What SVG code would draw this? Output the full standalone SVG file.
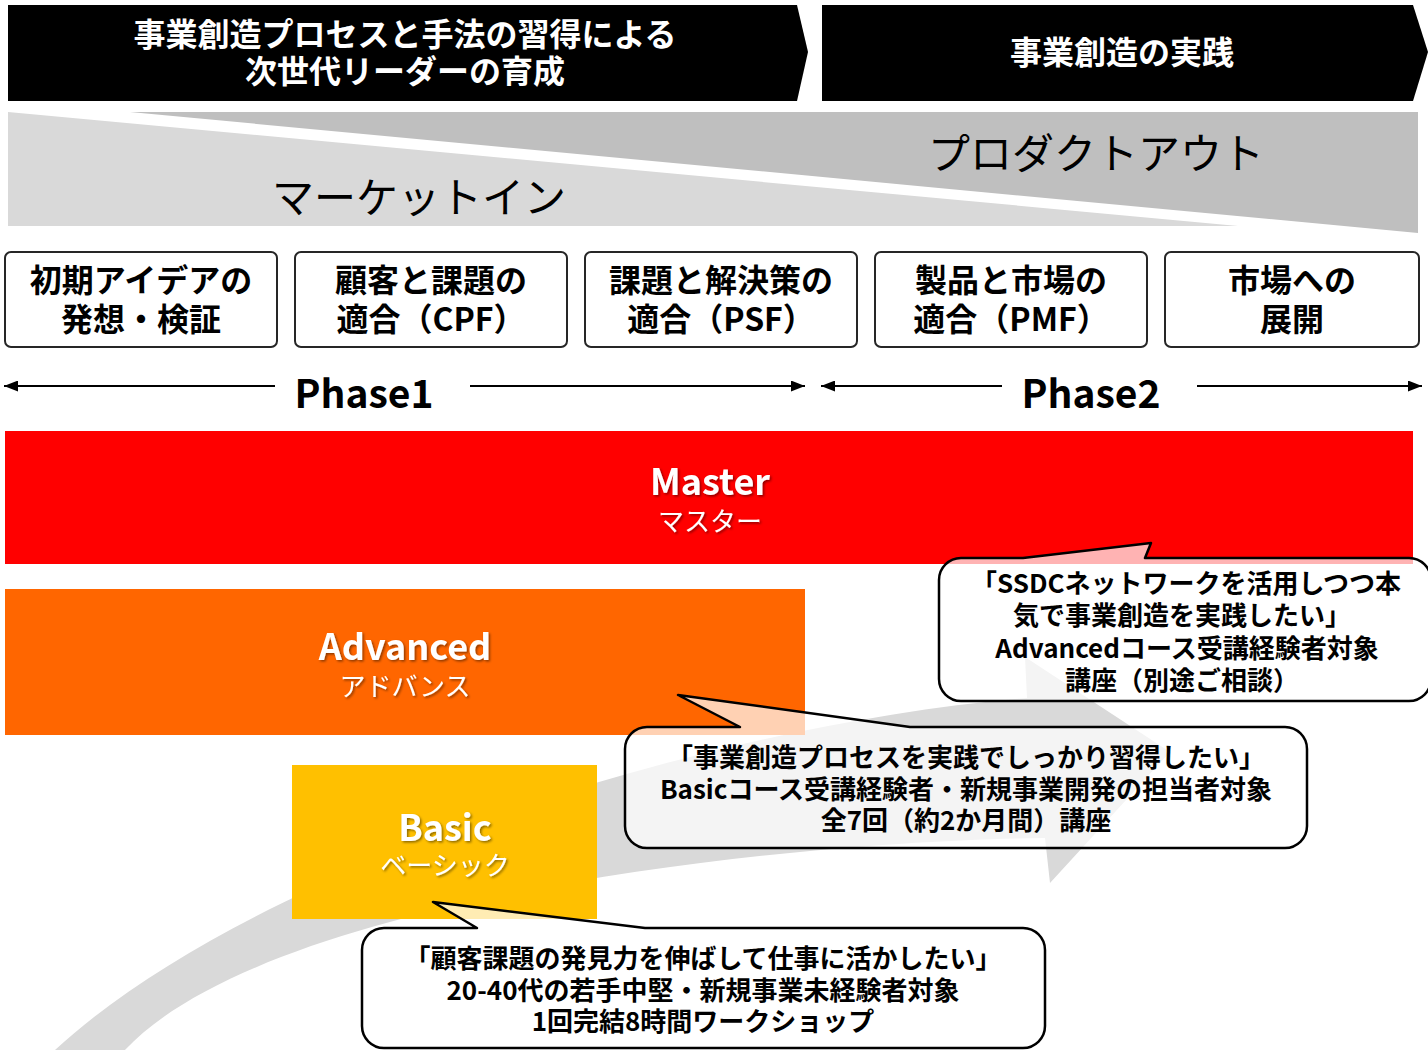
<svg xmlns="http://www.w3.org/2000/svg" width="1428" height="1050" viewBox="0 0 1428 1050">
<style>
  text { font-family: 'Noto Sans CJK JP', 'Noto Sans', sans-serif; text-anchor: middle; }
  .banner { fill: #000; }
  .bannerText { fill: #fff; font-size: 32px; font-weight: 700; }
  .triText { fill: #000; font-size: 42px; font-weight: 400; }
  .stage rect { fill: #fff; stroke: #262626; stroke-width: 2; }
  .stageText { fill: #000; font-size: 32px; font-weight: 700; }
  .phaseLine { stroke: #000; stroke-width: 2; fill: none; }
  .phaseText { fill: #000; font-size: 39px; font-weight: 700; }
  .lvlTitle { fill: #fff; font-size: 36px; font-weight: 700; }
  .lvlSub { fill: #fff; font-size: 26px; font-weight: 400; }
  .callout { fill: #fff; fill-opacity: 0.7; stroke: #000; stroke-width: 2.5; stroke-linejoin: round; }
  .calloutText { fill: #000; font-size: 26px; font-weight: 700; }
</style>
<defs>
  <marker id="ah" viewBox="0 0 14 11" refX="14" refY="5.5" markerWidth="14" markerHeight="11" markerUnits="userSpaceOnUse" orient="auto">
    <path d="M0,0 L14,5.5 L0,11 Z" fill="#000"/>
  </marker>
  <filter id="shadow" x="-10%" y="-20%" width="130%" height="150%">
    <feDropShadow dx="1.5" dy="1.5" stdDeviation="1" flood-color="#000" flood-opacity="0.45"/>
  </filter>
</defs>

<!-- background triangles -->
<g id="market-in">
  <polygon points="8,112 1238,226 8,226" fill="#d9d9d9"/>
  <text class="triText" x="419" y="213">マーケットイン</text>
</g>
<g id="product-out">
  <polygon points="130,112 1418,112 1418,233" fill="#bfbfbf"/>
  <text class="triText" x="1096" y="169">プロダクトアウト</text>
</g>

<!-- top banners -->
<g id="banner-left">
  <polygon class="banner" points="8,5 797,5 808,52 797,101 8,101"/>
  <text class="bannerText" x="405" y="46">事業創造プロセスと手法の習得による</text>
  <text class="bannerText" x="405" y="83">次世代リーダーの育成</text>
</g>
<g id="banner-right">
  <polygon class="banner" points="822,5 1413,5 1428,52 1413,101 822,101"/>
  <text class="bannerText" x="1122" y="64">事業創造の実践</text>
</g>

<!-- stage boxes -->
<g id="stage1" class="stage">
  <rect x="5" y="252" width="272" height="95" rx="6"/>
  <text class="stageText" x="141" y="292">初期アイデアの</text>
  <text class="stageText" x="141" y="331">発想・検証</text>
</g>
<g id="stage2" class="stage">
  <rect x="295" y="252" width="272" height="95" rx="6"/>
  <text class="stageText" x="431" y="292">顧客と課題の</text>
  <text class="stageText" x="431" y="331">適合（CPF）</text>
</g>
<g id="stage3" class="stage">
  <rect x="585" y="252" width="272" height="95" rx="6"/>
  <text class="stageText" x="721" y="292">課題と解決策の</text>
  <text class="stageText" x="721" y="331">適合（PSF）</text>
</g>
<g id="stage4" class="stage">
  <rect x="875" y="252" width="272" height="95" rx="6"/>
  <text class="stageText" x="1011" y="292">製品と市場の</text>
  <text class="stageText" x="1011" y="331">適合（PMF）</text>
</g>
<g id="stage5" class="stage">
  <rect x="1165" y="252" width="254" height="95" rx="6"/>
  <text class="stageText" x="1292" y="292">市場への</text>
  <text class="stageText" x="1292" y="331">展開</text>
</g>

<!-- phase labels -->
<g id="phase1">
  <text class="phaseText" x="364" y="408">Phase1</text>
</g>
<g id="phase2">
  <text class="phaseText" x="1091" y="408">Phase2</text>
</g>

<!-- connectors -->
<g id="connectors">
  <line class="phaseLine" x1="275" y1="386" x2="4" y2="386" marker-end="url(#ah)"/>
  <line class="phaseLine" x1="470" y1="386" x2="805" y2="386" marker-end="url(#ah)"/>
  <line class="phaseLine" x1="1002" y1="386" x2="821" y2="386" marker-end="url(#ah)"/>
  <line class="phaseLine" x1="1197" y1="386" x2="1422" y2="386" marker-end="url(#ah)"/>
  <path id="growth-arrow" d="M55,1050 C250,870 700,725 1027,698 L1025,657 L1170,752 L1050,883 L1045,838 C800,840 270,895 125,1050 L125,1060 L55,1060 Z" fill="#d9d9d9"/>
</g>

<!-- levels -->
<g id="master">
  <rect x="5" y="431" width="1408" height="133" fill="#ff0000"/>
  <text class="lvlTitle" x="710" y="495" filter="url(#shadow)">Master</text>
  <text class="lvlSub" x="710" y="531" filter="url(#shadow)">マスター</text>
</g>
<g id="advanced">
  <rect x="5" y="589" width="800" height="146" fill="#ff6600"/>
  <text class="lvlTitle" x="405" y="660" filter="url(#shadow)">Advanced</text>
  <text class="lvlSub" x="405" y="696" filter="url(#shadow)">アドバンス</text>
</g>
<g id="basic">
  <rect x="292" y="765" width="305" height="154" fill="#ffc000"/>
  <text class="lvlTitle" x="445" y="841" filter="url(#shadow)">Basic</text>
  <text class="lvlSub" x="445" y="875" filter="url(#shadow)">ベーシック</text>
</g>

<!-- callouts -->
<g id="callout-master">
  <path class="callout" d="M961,558 L1023,558 L1151,543 L1145,558 L1409,558 A22,22 0 0 1 1431,580 L1431,679 A22,22 0 0 1 1409,701 L961,701 A22,22 0 0 1 939,679 L939,580 A22,22 0 0 1 961,558 Z"/>
  <text class="calloutText" x="1186" y="593">「SSDCネットワークを活用しつつ本</text>
  <text class="calloutText" x="1182" y="625">気で事業創造を実践したい」</text>
  <text class="calloutText" x="1187" y="658">Advancedコース受講経験者対象</text>
  <text class="calloutText" x="1182" y="690">講座（別途ご相談）</text>
</g>
<g id="callout-advanced">
  <path class="callout" d="M647,727 L740,727 L678,695 L910,727 L1285,727 A22,22 0 0 1 1307,749 L1307,826 A22,22 0 0 1 1285,848 L647,848 A22,22 0 0 1 625,826 L625,749 A22,22 0 0 1 647,727 Z"/>
  <text class="calloutText" x="966" y="767">「事業創造プロセスを実践でしっかり習得したい」</text>
  <text class="calloutText" x="966" y="799">Basicコース受講経験者・新規事業開発の担当者対象</text>
  <text class="calloutText" x="966" y="830">全7回（約2か月間）講座</text>
</g>
<g id="callout-basic">
  <path class="callout" d="M384,928 L477,928 L433,902 L645,928 L1023,928 A22,22 0 0 1 1045,950 L1045,1026 A22,22 0 0 1 1023,1048 L384,1048 A22,22 0 0 1 362,1026 L362,950 A22,22 0 0 1 384,928 Z"/>
  <text class="calloutText" x="703" y="968">「顧客課題の発見力を伸ばして仕事に活かしたい」</text>
  <text class="calloutText" x="703" y="1000">20-40代の若手中堅・新規事業未経験者対象</text>
  <text class="calloutText" x="703" y="1031">1回完結8時間ワークショップ</text>
</g>
</svg>
